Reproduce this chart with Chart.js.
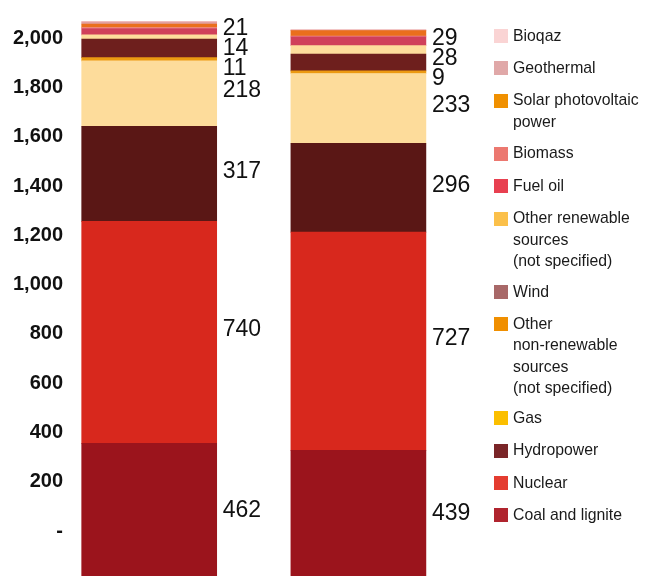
<!DOCTYPE html>
<html>
<head>
<meta charset="utf-8">
<script src="https://cdn.jsdelivr.net/npm/chart.js@4.4.1/dist/chart.umd.min.js"></script>
<style>
  html, body { margin: 0; padding: 0; background: #ffffff; overflow: hidden; }
  #wrap { width: 655px; height: 576px; position: relative; }
</style>
</head>
<body>
<div id="wrap"><canvas id="chart" width="655" height="576"></canvas></div>
<script>
// Electricity production by source, two stacked columns
const categories = ['Column 1', 'Column 2'];

const coalAndLignite     = [462, 439];
const nuclear            = [740, 727];
const hydropower         = [317, 296];
const gas                = [218, 233];
const otherNonRenewable  = [11, 9];
const wind               = [62, 56];
const otherRenewable     = [14, 28];
const fuelOil            = [21, 29];
const biomass            = [3, 3];
const solarPhotovoltaic  = [12, 18];
const geothermal         = [6, 2];
const bioqaz             = [3, 1];

const tickValues = [0, 200, 400, 600, 800, 1000, 1200, 1400, 1600, 1800, 2000];
const tickLabels = ['-', '200', '400', '600', '800', '1,000', '1,200', '1,400', '1,600', '1,800', '2,000'];

// series in stacking order (bottom first)
const series = [
  { name: 'Coal and lignite', values: coalAndLignite, bar: '#9b141c', key: '#b0242e', showValue: true },
  { name: 'Nuclear', values: nuclear, bar: '#d8281d', key: '#e43c30', showValue: true },
  { name: 'Hydropower', values: hydropower, bar: '#5a1715', key: '#7a2528', showValue: true },
  { name: 'Gas', values: gas, bar: '#fddc9b', key: '#fbbf00', showValue: true },
  { name: 'Other non-renewable sources (not\u00a0specified)', values: otherNonRenewable, bar: '#ec9a12', key: '#f08f00', showValue: true },
  { name: 'Wind', values: wind, bar: '#6e1f1d', key: '#a86868', showValue: false },
  { name: 'Other renewable sources (not\u00a0specified)', values: otherRenewable, bar: '#fedd9c', key: '#fbc04a', showValue: true },
  { name: 'Fuel oil', values: fuelOil, bar: '#d0405a', key: '#e84050', showValue: true },
  { name: 'Biomass', values: biomass, bar: '#f09090', key: '#ec7870', showValue: false },
  { name: 'Solar photovoltaic power', values: solarPhotovoltaic, bar: '#ea6f1c', key: '#f09000', showValue: false },
  { name: 'Geothermal', values: geothermal, bar: '#e2a0a0', key: '#e0a8a8', showValue: false },
  { name: 'Bioqaz', values: bioqaz, bar: '#f4c4c4', key: '#fad4d4', showValue: false }
];

// each column sits at its category index on a linear x scale
const datasets = series.map(s => ({
  label: s.name,
  data: s.values.map((v, i) => ({ x: i, y: v })),
  backgroundColor: s.bar,
  borderWidth: 0,
  yAxisID: 'yBar',
  barThickness: 135,
  keyColor: s.key,
  showValue: s.showValue
}));

// value labels to the right of each column, nudged apart where segments are thin
const valueLabels = {
  id: 'valueLabels',
  afterDatasetsDraw(chart) {
    const ctx = chart.ctx;
    ctx.save();
    ctx.font = '23px "Liberation Sans", Arial, sans-serif';
    ctx.fillStyle = '#111111';
    ctx.textAlign = 'left';
    ctx.textBaseline = 'middle';
    categories.forEach((c, i) => {
      const items = [];
      chart.data.datasets.forEach((ds, d) => {
        if (!ds.showValue) return;
        const el = chart.getDatasetMeta(d).data[i];
        items.push({
          text: String(ds.data[i].y),
          x: el.x + el.width / 2 + 6,
          y: (el.y + el.base) / 2 - 2.5
        });
      });
      items.sort((a, b) => a.y - b.y);
      let prev = -Infinity;
      items.forEach(it => {
        const y = Math.max(it.y, prev + 20);
        ctx.fillText(it.text, it.x, y);
        prev = y;
      });
    });
    ctx.restore();
  }
};

const KEY_TEXT_SQUEEZE = 0.93;

function wrapText(ctx, text, maxWidth) {
  const words = text.split(' ');
  const lines = [];
  let line = '';
  words.forEach(w => {
    const test = line ? line + ' ' + w : w;
    if (line && ctx.measureText(test).width * KEY_TEXT_SQUEEZE > maxWidth) {
      lines.push(line);
      line = w;
    } else {
      line = test;
    }
  });
  if (line) lines.push(line);
  return lines;
}

// key on the right, top entry is the last series
const sideLegend = {
  id: 'sideLegend',
  afterDraw(chart) {
    const ctx = chart.ctx;
    ctx.save();
    ctx.font = '17px "Liberation Sans", Arial, sans-serif';
    ctx.textAlign = 'left';
    ctx.textBaseline = 'middle';
    let y = 36;
    chart.data.datasets.slice().reverse().forEach(ds => {
      const lines = wrapText(ctx, ds.label, 133);
      ctx.fillStyle = ds.keyColor;
      ctx.fillRect(494, Math.round(y - 7), 14, 14);
      ctx.fillStyle = '#1a1a1a';
      lines.forEach((ln, k) => {
        ctx.save();
        ctx.translate(513, y + k * 21.5);
        ctx.scale(KEY_TEXT_SQUEEZE, 1);
        ctx.fillText(ln, 0, 0);
        ctx.restore();
      });
      y += 32.4 + (lines.length - 1) * 20.5;
    });
    ctx.restore();
  }
};

new Chart(document.getElementById('chart'), {
  type: 'bar',
  data: { datasets },
  options: {
    responsive: false,
    animation: false,
    layout: { padding: { left: 0, right: 192, top: 0, bottom: 0 } },
    plugins: { legend: { display: false }, tooltip: { enabled: false } },
    scales: {
      x: { type: 'linear', stacked: true, display: false, offset: false, min: -0.3786, max: 1.5 },
      yBar: { stacked: true, display: false, min: 20, max: 1940 },
      y: {
        position: 'left',
        min: -182.7,
        max: 2155.9,
        grid: { display: false, drawTicks: false },
        border: { display: false },
        afterBuildTicks: scale => { scale.ticks = tickValues.map(v => ({ value: v })); },
        afterFit: scale => {
          scale.width = 70;
          scale.paddingTop = 0;
          scale.paddingBottom = 0;
        },
        ticks: {
          padding: 7,
          color: '#111111',
          font: { family: '"Liberation Sans", Arial, sans-serif', size: 20, weight: 'bold' },
          callback: (value, index) => tickLabels[index]
        }
      }
    }
  },
  plugins: [valueLabels, sideLegend]
});
</script>
</body>
</html>
